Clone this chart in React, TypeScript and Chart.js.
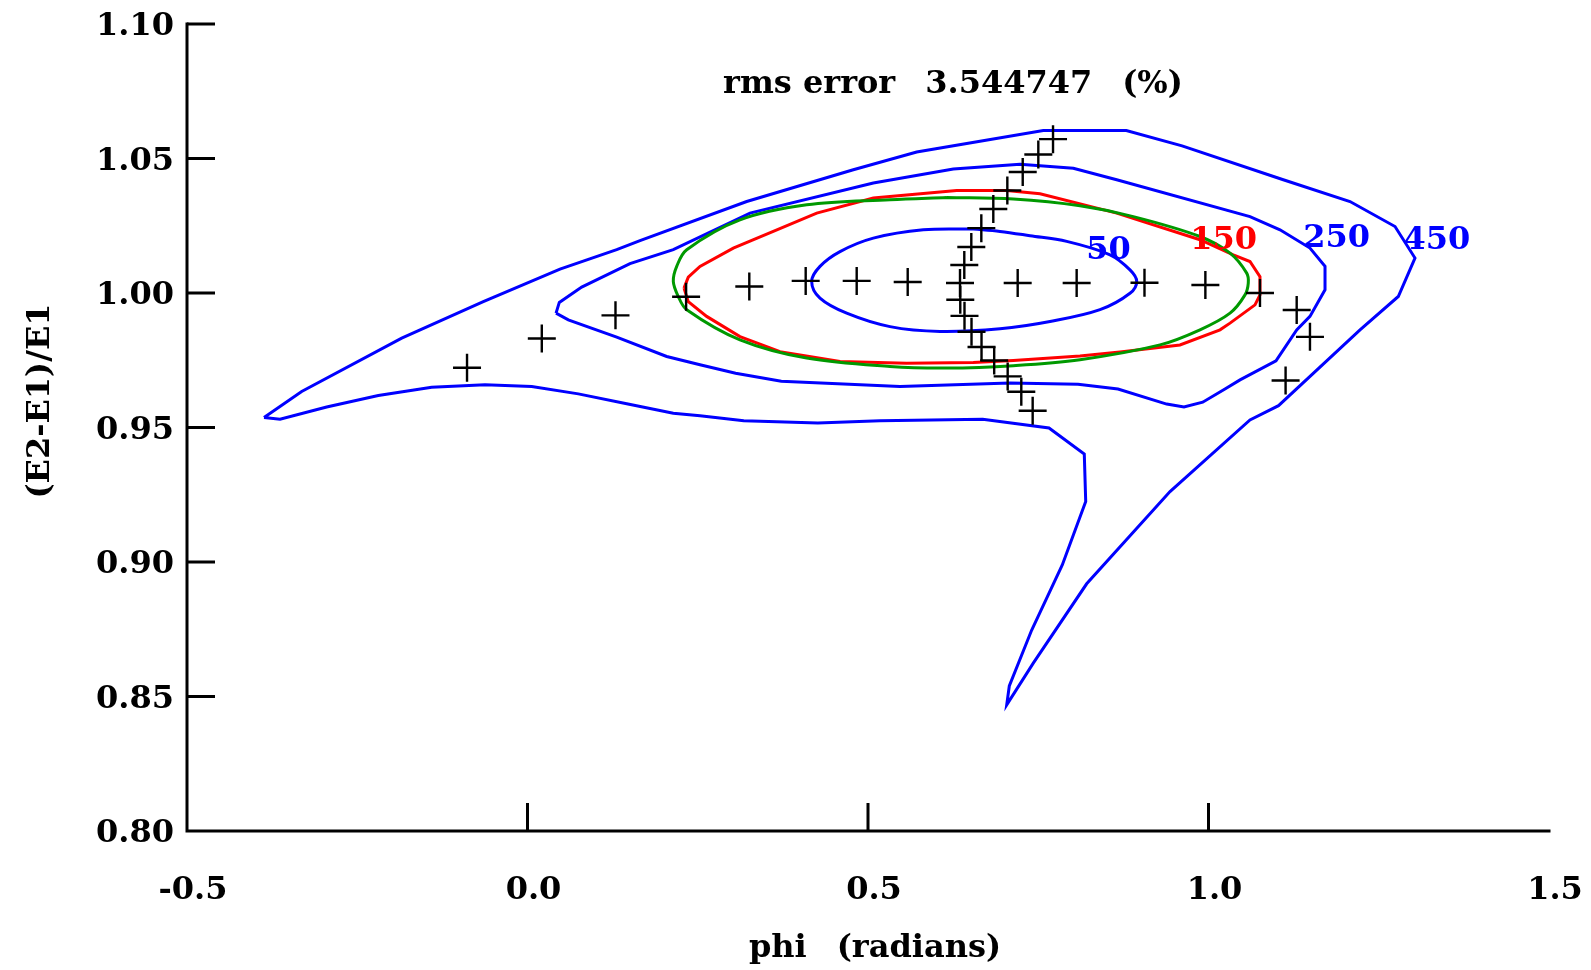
import React, { useEffect, useRef } from "react";
import { Chart, registerables } from "chart.js";

Chart.register(...registerables);

// ---- axis ticks ----
const xTicks = [-0.5, 0.0, 0.5, 1.0, 1.5];
const yTicks = [0.8, 0.85, 0.9, 0.95, 1.0, 1.05, 1.1];

// ---- measured points (crosses) ----
const rowPhi = [-0.0888, 0.021, 0.1292, 0.2329, 0.3257, 0.4085, 0.4834, 0.5583, 0.7198, 0.8064, 0.906, 0.9954, 1.0756, 1.1295, 1.149, 1.1132];
const rowRatio = [0.9722, 0.9831, 0.9917, 0.9986, 1.0024, 1.0045, 1.0045, 1.0041, 1.0037, 1.0037, 1.0038, 1.003, 1.0, 0.9937, 0.9837, 0.9675];

const chainPhi = [0.7717, 0.7501, 0.7272, 0.7046, 0.684, 0.6664, 0.6517, 0.6414, 0.6351, 0.6355, 0.6417, 0.652, 0.6667, 0.6853, 0.7051, 0.7251, 0.7418];
const chainRatio = [1.0572, 1.0515, 1.045, 1.0381, 1.0312, 1.0241, 1.0171, 1.0104, 1.0037, 0.9975, 0.9915, 0.9856, 0.9799, 0.9749, 0.969, 0.9633, 0.9562];

// ---- contour 50 (blue) ----
const c50Phi = [0.6546, 0.6938, 0.7379, 0.7918, 0.8554, 0.8847, 0.8946, 0.8847, 0.8407, 0.7673, 0.6938, 0.6057, 0.5323, 0.4687, 0.4295, 0.4173, 0.4295, 0.4589, 0.5078, 0.5812, 0.6546];
const c50Ratio = [1.0238, 1.0229, 1.0213, 1.0192, 1.0142, 1.0086, 1.0043, 0.9999, 0.9938, 0.9894, 0.9867, 0.9857, 0.9875, 0.9925, 0.9981, 1.0043, 1.0099, 1.0154, 1.0204, 1.0235, 1.0238];

// ---- contour 150 (red) ----
const c150Phi = [0.2298, 0.2361, 0.2533, 0.3022, 0.3609, 0.4247, 0.5078, 0.6302, 0.7037, 0.7526, 0.8652, 0.9875, 1.0364, 1.0609, 1.0756, 1.0756, 1.0683, 1.0316, 1.0169, 0.9581, 0.87, 0.8113, 0.7134, 0.6546, 0.5568, 0.4589, 0.3708, 0.312, 0.2631, 0.2361, 0.2298];
const c150Ratio = [1.0018, 1.0059, 1.0099, 1.0167, 1.0229, 1.0297, 1.0353, 1.0381, 1.0381, 1.0369, 1.0297, 1.0198, 1.0142, 1.0117, 1.0061, 0.9993, 0.9956, 0.9888, 0.9863, 0.9807, 0.9781, 0.9766, 0.9749, 0.9742, 0.9739, 0.9745, 0.9782, 0.9838, 0.9913, 0.9968, 1.0018];

// ---- fitted ellipse (green) ----
const fitPhi = [0.6156, 0.7134, 0.8113, 0.8896, 0.9875, 1.0316, 1.0561, 1.0584, 1.0536, 1.0316, 0.9875, 0.9288, 0.8113, 0.7134, 0.6156, 0.5323, 0.41, 0.312, 0.2338, 0.2214, 0.2141, 0.2191, 0.2338, 0.312, 0.41, 0.5323, 0.6156];
const fitRatio = [1.0355, 1.0349, 1.0324, 1.0284, 1.021, 1.0148, 1.0074, 1.0037, 0.9993, 0.9925, 0.9863, 0.9807, 0.9752, 0.973, 0.9721, 0.9727, 0.9758, 0.9826, 0.9938, 0.9987, 1.0043, 1.0099, 1.0161, 1.0272, 1.0328, 1.0347, 1.0355];

// ---- contour 250 (blue) ----
const c250Phi = [0.0419, 0.0467, 0.0796, 0.1505, 0.2141, 0.3267, 0.5078, 0.6253, 0.7232, 0.8015, 0.8652, 1.0609, 1.105, 1.149, 1.1711, 1.1711, 1.149, 1.1295, 1.0991, 1.0463, 1.0242, 0.9915, 0.964, 0.9386, 0.8671, 0.8084, 0.7085, 0.547, 0.3727, 0.3056, 0.2533, 0.2044, 0.131, 0.0599, 0.0419];
const c250Ratio = [0.9925, 0.9965, 1.0022, 1.0109, 1.0161, 1.0297, 1.0409, 1.0461, 1.0479, 1.0464, 1.0421, 1.0284, 1.0235, 1.0167, 1.0099, 1.0012, 0.9913, 0.9863, 0.9748, 0.9677, 0.9643, 0.9594, 0.9576, 0.9587, 0.9643, 0.9661, 0.9665, 0.9652, 0.9672, 0.9702, 0.9733, 0.9764, 0.9836, 0.99, 0.9925];

// ---- contour 450 (blue) ----
const c450Phi = [-0.3869, -0.3316, -0.1847, -0.0649, 0.0477, 0.131, 0.1652, 0.3219, 0.4784, 0.5715, 0.7574, 0.8793, 0.9612, 1.1098, 1.2078, 1.2739, 1.3032, 1.2787, 1.2225, 1.1028, 1.0609, 0.9435, 0.8211, 0.7427, 0.7037, 0.7075, 0.7404, 0.7853, 0.8197, 0.8176, 0.7658, 0.6684, 0.5176, 0.4263, 0.3176, 0.2533, 0.2141, 0.1457, 0.0746, 0.0062, -0.0624, -0.1407, -0.2191, -0.2949, -0.3634, -0.3869];
const c450Ratio = [0.9537, 0.9634, 0.9832, 0.9968, 1.0089, 1.0161, 1.0195, 1.034, 1.0458, 1.0524, 1.0604, 1.0604, 1.0547, 1.0421, 1.034, 1.0247, 1.013, 0.9987, 0.9863, 0.9581, 0.9528, 0.9262, 0.8919, 0.8624, 0.8469, 0.8539, 0.8747, 0.8989, 0.9225, 0.9401, 0.9498, 0.9531, 0.9525, 0.9517, 0.9525, 0.9544, 0.9553, 0.9588, 0.9625, 0.9652, 0.9659, 0.965, 0.9619, 0.9576, 0.9531, 0.9537];

// ---- contour labels ----
const contourLabels = ["50", "150", "250", "450"];
const labelPhi = [0.8532, 1.0223, 1.1883, 1.3355];
const labelRatio = [1.017, 1.0207, 1.0213, 1.0204];

// ---- header text ----
const rmsParts = ["rms error", "3.544747", "(%)"];
const rmsPhi = 0.6248;
const rmsRatio = 1.0785;

const xTitleParts = ["phi", "(radians)"];
const yTitle = "(E2-E1)/E1";

const BLUE = "#0000ff";
const RED = "#ff0000";
const GREEN = "#009900";
const LABEL_COLORS = [BLUE, RED, BLUE, BLUE];
const FONT_FAMILY = '"DejaVu Serif", serif';
const FONT = `bold 32px ${FONT_FAMILY}`;
const TEXT_DY = 3;

const toPts = (xs: number[], ys: number[]) => xs.map((x, i) => ({ x, y: ys[i] }));

function drawParts(ctx: CanvasRenderingContext2D, parts: string[], cx: number, cy: number, gap: number) {
  const widths = parts.map((p) => ctx.measureText(p).width);
  const total = widths.reduce((s, w) => s + w, 0) + gap * (parts.length - 1);
  let x = cx - total / 2;
  ctx.textAlign = "left";
  parts.forEach((p, i) => {
    ctx.fillText(p, x, cy);
    x += widths[i] + gap;
  });
}

export default function App() {
  const ref = useRef<HTMLCanvasElement>(null);

  useEffect(() => {
    const canvas = ref.current;
    if (!canvas) return;

    const annotate = {
      id: "annotate",
      afterDraw(chart: any) {
        const { ctx, chartArea: a, scales } = chart;
        const xs = scales.x;
        const ys = scales.y;
        ctx.save();
        // axes
        ctx.strokeStyle = "#000";
        ctx.lineWidth = 3;
        ctx.lineCap = "square";
        ctx.beginPath();
        ctx.moveTo(a.left, a.top);
        ctx.lineTo(a.left, a.bottom);
        ctx.lineTo(a.right, a.bottom);
        ctx.stroke();
        // inward ticks
        ctx.lineCap = "butt";
        ctx.beginPath();
        for (const t of xs.ticks) {
          if (t.value <= xs.min + 1e-9 || t.value >= xs.max - 1e-9) continue;
          const px = xs.getPixelForValue(t.value);
          ctx.moveTo(px, a.bottom);
          ctx.lineTo(px, a.bottom - 28);
        }
        for (const t of ys.ticks) {
          if (t.value <= ys.min + 1e-9) continue;
          const py = ys.getPixelForValue(t.value);
          ctx.moveTo(a.left, py);
          ctx.lineTo(a.left + 28, py);
        }
        ctx.stroke();

        ctx.font = FONT;
        ctx.textBaseline = "middle";
        ctx.fillStyle = "#000";
        // tick labels
        ctx.textAlign = "center";
        for (const t of xs.ticks) {
          ctx.fillText(Number(t.value).toFixed(1), xs.getPixelForValue(t.value) + 6, a.bottom + 57 + TEXT_DY);
        }
        ctx.textAlign = "right";
        for (const t of ys.ticks) {
          ctx.fillText(Number(t.value).toFixed(2), a.left - 13, ys.getPixelForValue(t.value) + TEXT_DY);
        }
        // contour labels
        ctx.textAlign = "center";
        contourLabels.forEach((s, i) => {
          ctx.fillStyle = LABEL_COLORS[i];
          ctx.fillText(s, xs.getPixelForValue(labelPhi[i]), ys.getPixelForValue(labelRatio[i]) + TEXT_DY);
        });
        // rms text
        ctx.fillStyle = "#000";
        drawParts(ctx, rmsParts, xs.getPixelForValue(rmsPhi), ys.getPixelForValue(rmsRatio) + TEXT_DY, 30);
        // axis titles
        drawParts(ctx, xTitleParts, (a.left + a.right) / 2 + 7, a.bottom + 115 + TEXT_DY, 30);
        ctx.textAlign = "center";
        ctx.translate(41, 401);
        ctx.rotate(-Math.PI / 2);
        ctx.fillText(yTitle, 0, 0);
        ctx.restore();
      },
    };

    const line = (xs: number[], ys: number[], color: string, order: number, tension = 0) => ({
      data: toPts(xs, ys),
      showLine: true,
      borderColor: color,
      backgroundColor: color,
      borderWidth: 3,
      pointRadius: 0,
      pointHoverRadius: 0,
      tension,
      fill: false,
      order,
    });

    const crosses = (xs: number[], ys: number[]) => ({
      data: toPts(xs, ys),
      showLine: false,
      pointStyle: "cross",
      pointRadius: 14,
      pointHoverRadius: 14,
      borderColor: "#000",
      backgroundColor: "#000",
      pointBorderWidth: 2.4,
      borderWidth: 2.4,
      order: 0,
    });

    const chart = new Chart(canvas, {
      type: "scatter",
      data: {
        datasets: [
          crosses(rowPhi, rowRatio),
          crosses(chainPhi, chainRatio),
          line(fitPhi, fitRatio, GREEN, 1, 0.35),
          line(c150Phi, c150Ratio, RED, 2),
          line(c50Phi, c50Ratio, BLUE, 3, 0.35),
          line(c250Phi, c250Ratio, BLUE, 3),
          line(c450Phi, c450Ratio, BLUE, 3),
        ] as any,
      },
      options: {
        responsive: false,
        animation: false,
        layout: { padding: { top: 24, right: 42, left: 0, bottom: 0 } },
        plugins: {
          legend: { display: false },
          tooltip: { enabled: false },
        },
        scales: {
          x: {
            type: "linear",
            min: -0.5,
            max: 1.5,
            afterBuildTicks: (s: any) => {
              s.ticks = xTicks.map((v) => ({ value: v }));
            },
            afterFit: (s: any) => {
              s.height = 139;
            },
            grid: { display: false, drawTicks: false },
            border: { display: false },
            ticks: { display: false },
          },
          y: {
            type: "linear",
            min: 0.8,
            max: 1.1,
            afterBuildTicks: (s: any) => {
              s.ticks = yTicks.map((v) => ({ value: v }));
            },
            afterFit: (s: any) => {
              s.width = 187;
            },
            grid: { display: false, drawTicks: false },
            border: { display: false },
            ticks: { display: false },
          },
        },
      } as any,
      plugins: [annotate],
    });

    return () => chart.destroy();
  }, []);

  return (
    <canvas
      ref={ref}
      width={1591}
      height={970}
      style={{ position: "absolute", left: 0, top: 0, display: "block", background: "#fff" }}
    />
  );
}
